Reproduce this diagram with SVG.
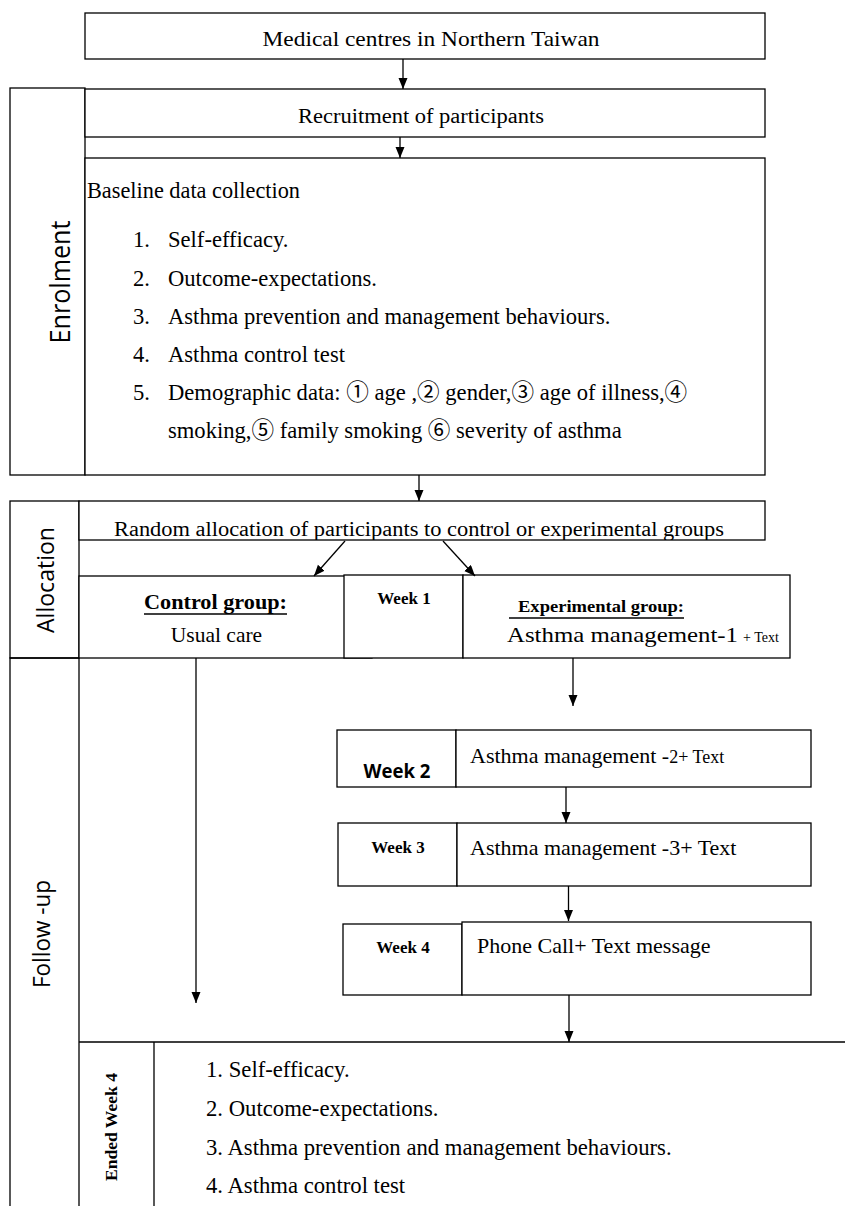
<svg xmlns="http://www.w3.org/2000/svg" width="845" height="1206" viewBox="0 0 845 1206">
<style>
.box{fill:#fff;stroke:#000;stroke-width:1.3}
.ln{fill:none;stroke:#000;stroke-width:1.3}
.t{font-family:"Liberation Serif","Noto Sans CJK SC",serif;fill:#000}
.s{font-family:"Open Sans","DejaVu Sans",sans-serif;fill:#000}
.b{font-weight:bold}
</style>
<defs>
<marker id="ah" markerWidth="12" markerHeight="10" refX="11" refY="4.5" orient="auto" markerUnits="userSpaceOnUse">
<path d="M0,0 L11,4.5 L0,9 z" fill="#000"/>
</marker>
<clipPath id="rclip"><rect x="79" y="501" width="686" height="39"/></clipPath>
</defs>
<rect width="845" height="1206" fill="#fff"/>

<g id="enrolment-label">
<rect class="box" x="10" y="88" width="75" height="387"/>
<text class="s" transform="translate(70,282) rotate(-90)" text-anchor="middle" font-size="27.5" textLength="123" lengthAdjust="spacingAndGlyphs">Enrolment</text>
</g>
<g id="allocation-label">
<rect class="box" x="10" y="501" width="69" height="157"/>
<text class="s" transform="translate(54,580) rotate(-90)" text-anchor="middle" font-size="24" textLength="106" lengthAdjust="spacingAndGlyphs">Allocation</text>
</g>
<g id="followup-label">
<path class="ln" d="M10,1206 V658 H79 V1206"/>
<text class="s" transform="translate(50,934) rotate(-90)" text-anchor="middle" font-size="23" textLength="108" lengthAdjust="spacingAndGlyphs">Follow -up</text>
</g>

<g id="medical-centres">
<rect class="box" x="85" y="13" width="680" height="46"/>
<text class="t" x="431" y="46" text-anchor="middle" font-size="21" textLength="337" lengthAdjust="spacingAndGlyphs">Medical centres in Northern Taiwan</text>
</g>
<g id="recruitment">
<rect class="box" x="85" y="89" width="680" height="48"/>
<text class="t" x="421" y="123" text-anchor="middle" font-size="20" textLength="246" lengthAdjust="spacingAndGlyphs">Recruitment of participants</text>
</g>
<g id="baseline">
<rect class="box" x="85" y="158" width="680" height="317"/>
<text class="t" x="87" y="198" font-size="22.3">Baseline data collection</text>
<g font-size="22.6">
<text class="t" x="133" y="247">1.</text><text class="t" x="168" y="247">Self-efficacy.</text>
<text class="t" x="133" y="286">2.</text><text class="t" x="168" y="286">Outcome-expectations.</text>
<text class="t" x="133" y="324">3.</text><text class="t" x="168" y="324">Asthma prevention and management behaviours.</text>
<text class="t" x="133" y="362">4.</text><text class="t" x="168" y="362">Asthma control test</text>
<text class="t" x="133" y="400">5.</text><text class="t" x="168" y="400">Demographic data: ① age ,② gender,③ age of illness,④</text>
<text class="t" x="168" y="438">smoking,⑤ family smoking ⑥ severity of asthma</text>
</g>
</g>

<g id="random-allocation">
<rect class="box" x="79" y="501" width="686" height="39"/>
<text class="t" x="419" y="536" text-anchor="middle" font-size="20" textLength="610" lengthAdjust="spacingAndGlyphs" clip-path="url(#rclip)">Random allocation of participants to control or experimental groups</text>
</g>

<g id="control-group">
<rect class="box" x="79" y="576" width="293" height="82"/>
<text class="t b" x="215.5" y="609" text-anchor="middle" font-size="20" textLength="143" lengthAdjust="spacingAndGlyphs">Control group:</text>
<line class="ln" x1="144" y1="614" x2="287" y2="614"/>
<text class="t" x="216.5" y="642" text-anchor="middle" font-size="21.5">Usual care</text>
</g>

<g id="week1">
<rect class="box" x="344" y="575" width="119" height="83"/>
<text class="t b" x="404" y="604" text-anchor="middle" font-size="17">Week 1</text>
</g>
<g id="experimental-group">
<rect class="box" x="463" y="575" width="327" height="83"/>
<text class="t b" x="601" y="612" text-anchor="middle" font-size="17" textLength="166" lengthAdjust="spacingAndGlyphs">Experimental group:</text>
<line class="ln" x1="509" y1="618" x2="684" y2="618"/>
<text class="t" x="507" y="642" font-size="22" textLength="231" lengthAdjust="spacingAndGlyphs">Asthma management-1</text>
<text class="t" x="743" y="642" font-size="14">+ Text</text>
</g>

<g id="week2">
<rect class="box" x="337" y="730" width="119" height="57"/>
<rect class="box" x="456" y="730" width="355" height="57"/>
<text class="s b" x="397" y="778" text-anchor="middle" font-size="19" textLength="67" lengthAdjust="spacingAndGlyphs">Week 2</text>
<text class="t" x="470" y="763" font-size="22">Asthma management -<tspan font-size="18">2+ Text</tspan></text>
</g>
<g id="week3">
<rect class="box" x="338" y="823" width="119" height="63"/>
<rect class="box" x="457" y="823" width="354" height="63"/>
<text class="t b" x="398" y="853" text-anchor="middle" font-size="17">Week 3</text>
<text class="t" x="470" y="855" font-size="22">Asthma management -3+ Text</text>
</g>
<g id="week4">
<rect class="box" x="343" y="924" width="119" height="71"/>
<rect class="box" x="462" y="922" width="349" height="73"/>
<text class="t b" x="403" y="953" text-anchor="middle" font-size="17">Week 4</text>
<text class="t" x="477" y="953" font-size="22">Phone Call+ Text message</text>
</g>

<g id="ended-week4">
<path class="ln" d="M79,1042 H845 M154,1042 V1206"/>
<text class="t b" transform="translate(117,1127) rotate(-90)" text-anchor="middle" font-size="17" textLength="108" lengthAdjust="spacingAndGlyphs">Ended Week 4</text>
<g font-size="22.7">
<text class="t" x="206" y="1077">1. Self-efficacy.</text>
<text class="t" x="206" y="1116">2. Outcome-expectations.</text>
<text class="t" x="206" y="1155">3. Asthma prevention and management behaviours.</text>
<text class="t" x="206" y="1193">4. Asthma control test</text>
</g>
</g>

<g id="connectors">
<line class="ln" x1="403" y1="59" x2="403" y2="89" marker-end="url(#ah)"/>
<line class="ln" x1="400" y1="137" x2="400" y2="158" marker-end="url(#ah)"/>
<line class="ln" x1="419" y1="475" x2="419" y2="501" marker-end="url(#ah)"/>
<line class="ln" x1="345" y1="541" x2="314" y2="576" marker-end="url(#ah)"/>
<line class="ln" x1="443" y1="541" x2="475" y2="576" marker-end="url(#ah)"/>
<line class="ln" x1="196" y1="658" x2="196" y2="1003" marker-end="url(#ah)"/>
<line class="ln" x1="573" y1="658" x2="573" y2="706" marker-end="url(#ah)"/>
<line class="ln" x1="566" y1="787" x2="566" y2="823" marker-end="url(#ah)"/>
<line class="ln" x1="568.5" y1="886" x2="568.5" y2="921" marker-end="url(#ah)"/>
<line class="ln" x1="569" y1="995" x2="569" y2="1042" marker-end="url(#ah)"/>
</g>
</svg>
